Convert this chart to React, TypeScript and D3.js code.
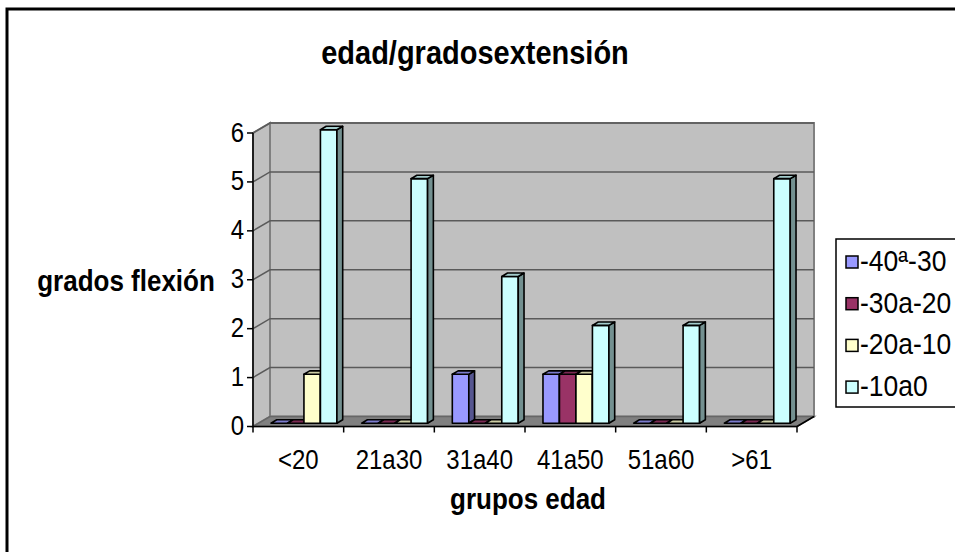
import React from "react";
import * as d3 from "d3";

const categories = ["<20", "21a30", "31a40", "41a50", "51a60", ">61"];
const seriesNames = ["-40ª-30", "-30a-20", "-20a-10", "-10a0"];
const s1 = [0, 0, 1, 1, 0, 0];
const s2 = [0, 0, 0, 1, 0, 0];
const s3 = [1, 0, 0, 1, 0, 0];
const s4 = [6, 5, 3, 2, 2, 5];
const yTicks = [0, 1, 2, 3, 4, 5, 6];
const seriesValues = [s1, s2, s3, s4];
const seriesColors = ["#9999FF", "#993366", "#FFFFCC", "#CCFFFF"];

const W = 955;
const H = 552;
const X0 = 253;
const X1 = 797;
const DX = 17;
const DY = 10;
const D0 = 0.33;
const D1 = 0.67;
const FONT = "'Liberation Sans', Arial, sans-serif";
const SY = 1.12;

function T(props: {
  x: number;
  y: number;
  size: number;
  bold?: boolean;
  anchor?: string;
  children: React.ReactNode;
}) {
  return (
    <text
      transform={`translate(${props.x},${props.y}) scale(1,${SY})`}
      textAnchor={props.anchor || "start"}
      fontFamily={FONT}
      fontWeight={props.bold ? "bold" : "normal"}
      fontSize={props.size}
      fill="#000"
    >
      {props.children}
    </text>
  );
}

export default function App() {
  const y = d3.scaleLinear().domain([0, 6]).range([426.5, 133]);
  const x = d3.scaleBand<string>().domain(categories).range([X0, X1]);
  const xs = d3
    .scaleBand<string>()
    .domain(seriesNames)
    .range([0, x.bandwidth()])
    .paddingInner(0)
    .paddingOuter(0.75);

  const P = (px: number, py: number, d: number) => [px + d * DX, py - d * DY];
  const poly = (pts: number[][]) => pts.map((p) => p.join(",")).join(" ");

  const y0 = y(0);
  const yMax = y(6);

  const bars: React.ReactNode[] = [];
  categories.forEach((c, ci) => {
    seriesNames.forEach((s, si) => {
      const v = seriesValues[si][ci];
      const xl = (x(c) as number) + (xs(s) as number);
      const xr = xl + xs.bandwidth();
      const yv = y(v);
      const base = seriesColors[si];
      const side = d3.color(base)!.darker(1.6).formatHex();
      const top = d3.interpolateRgb(base, "#000")(0.2);
      const key = `${ci}-${si}`;
      bars.push(
        <g key={key} stroke="#000" strokeWidth={1.6} strokeLinejoin="round">
          {v > 0 && (
            <polygon
              points={poly([P(xl, yv, D0), P(xr, yv, D0), P(xr, y0, D0), P(xl, y0, D0)])}
              fill={base}
            />
          )}
          {v > 0 && (
            <polygon
              points={poly([P(xr, yv, D0), P(xr, yv, D1), P(xr, y0, D1), P(xr, y0, D0)])}
              fill={side}
            />
          )}
          <polygon
            points={poly([P(xl, yv, D0), P(xr, yv, D0), P(xr, yv, D1), P(xl, yv, D1)])}
            fill={top}
          />
        </g>
      );
    });
  });

  return (
    <svg width={W} height={H} style={{ position: "absolute", left: 0, top: 0 }}>
      <rect x={0} y={0} width={W} height={H} fill="#fff" />
      <rect x={7} y={9} width={W + 20} height={H + 20} fill="#fff" stroke="#000" strokeWidth={3} />
      <T x={475} y={64} size={29} bold anchor="middle">
        edad/gradosextensión
      </T>

      {/* back wall */}
      <polygon
        points={poly([P(X0, yMax, 1), P(X1, yMax, 1), P(X1, y0, 1), P(X0, y0, 1)])}
        fill="#C0C0C0"
        stroke="#808080"
        strokeWidth={2}
      />
      {/* side wall */}
      <polygon
        points={poly([P(X0, yMax, 0), P(X0, yMax, 1), P(X0, y0, 1), P(X0, y0, 0)])}
        fill="#C0C0C0"
        stroke="#808080"
        strokeWidth={2}
      />
      {/* floor */}
      <polygon
        points={poly([P(X0, y0, 0), P(X1, y0, 0), P(X1, y0, 1), P(X0, y0, 1)])}
        fill="#808080"
        stroke="#666"
        strokeWidth={1.5}
      />
      {/* gridlines */}
      {yTicks.slice(1).map((t) => (
        <g key={t} stroke="#5a5a5a" strokeWidth={1.5} fill="none">
          <polyline points={poly([P(X0, y(t), 0), P(X0, y(t), 1), P(X1, y(t), 1)])} />
        </g>
      ))}

      {bars}

      {/* value axis */}
      <line x1={X0} x2={X0} y1={yMax} y2={y0} stroke="#000" strokeWidth={1.5} />
      {yTicks.map((t) => (
        <g key={t}>
          <line x1={X0 - 6} x2={X0} y1={y(t)} y2={y(t)} stroke="#000" strokeWidth={1.5} />
          <T x={X0 - 9} y={y(t) + 8.5} size={24} anchor="end">
            {t}
          </T>
        </g>
      ))}
      {/* category axis */}
      <line x1={X0} x2={X1} y1={y0} y2={y0} stroke="#000" strokeWidth={1.5} />
      <line x1={X1} y1={y0} x2={X1 + DX} y2={y0 - DY} stroke="#000" strokeWidth={1.5} />
      {[...categories.map((c) => x(c) as number), X1].map((tx, i) => (
        <line key={i} x1={tx} x2={tx} y1={y0} y2={y0 + 6} stroke="#000" strokeWidth={1.5} />
      ))}
      {categories.map((c) => (
        <T key={c} x={(x(c) as number) + x.bandwidth() / 2} y={469} size={24} anchor="middle">
          {c}
        </T>
      ))}

      <T x={126} y={291} size={26} bold anchor="middle">
        grados flexión
      </T>
      <T x={528} y={509} size={26} bold anchor="middle">
        grupos edad
      </T>

      {/* legend */}
      <rect x={836} y={239} width={140} height={168} fill="#fff" stroke="#000" strokeWidth={1.5} />
      {seriesNames.map((s, i) => {
        const cy = 262 + i * 41.7;
        return (
          <g key={s}>
            <rect x={846} y={cy - 6} width={12} height={12} fill={seriesColors[i]} stroke="#000" strokeWidth={1.5} />
            <T x={860} y={cy + 9} size={26.5}>
              {s}
            </T>
          </g>
        );
      })}
    </svg>
  );
}
